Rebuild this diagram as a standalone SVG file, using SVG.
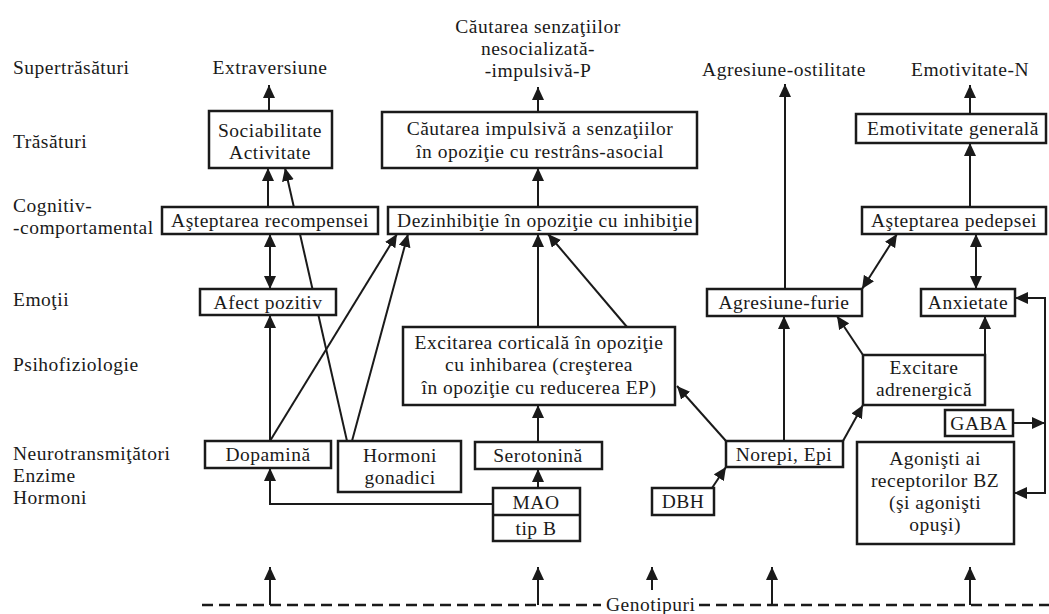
<svg xmlns="http://www.w3.org/2000/svg" width="1049" height="614" viewBox="0 0 1049 614">
<style>
.t{font-family:"Liberation Serif","Times New Roman",serif;font-size:19.5px;letter-spacing:0.5px;fill:#1a1a1a}
.c{text-anchor:middle}
.box{fill:#fff;stroke:#1a1a1a;stroke-width:2.5}
.con{fill:none;stroke:#1a1a1a;stroke-width:2}
.dash{fill:none;stroke:#1a1a1a;stroke-width:2.5;stroke-dasharray:11 6}
</style>
<defs>
<marker id="ah" markerWidth="13" markerHeight="12" refX="13" refY="6" orient="auto" markerUnits="userSpaceOnUse"><path d="M0,0 L13,6 L0,12 z" fill="#1a1a1a"/></marker>
<marker id="as" markerWidth="13" markerHeight="12" refX="13" refY="6" orient="auto-start-reverse" markerUnits="userSpaceOnUse"><path d="M0,0 L13,6 L0,12 z" fill="#1a1a1a"/></marker>
</defs>
<rect width="1049" height="614" fill="#fff"/>

<g id="row-labels" class="t">
<text x="13" y="74">Supertrăsături</text>
<text x="13" y="148">Trăsături</text>
<text x="13" y="212">Cognitiv-</text>
<text x="13" y="234">-comportamental</text>
<text x="13" y="306">Emoţii</text>
<text x="13" y="371">Psihofiziologie</text>
<text x="13" y="460">Neurotransmiţători</text>
<text x="13" y="482">Enzime</text>
<text x="13" y="504">Hormoni</text>
</g>

<g id="connectors" class="con">
<path d="M269,111 L269,85" marker-end="url(#ah)"/>
<path d="M538,112 L538,87" marker-end="url(#ah)"/>
<path d="M785,289 L785,84" marker-end="url(#ah)"/>
<path d="M970,114 L970,85" marker-end="url(#ah)"/>
<path d="M970,207 L970,143" marker-end="url(#ah)"/>
<path d="M268,207 L268,168" marker-end="url(#ah)"/>
<path d="M347,441 L285,168" marker-end="url(#ah)"/>
<path d="M538,207 L538,168" marker-end="url(#ah)"/>
<path d="M270,234 L270,289" marker-start="url(#as)" marker-end="url(#ah)"/>
<path d="M270,441 L397,234" marker-end="url(#ah)"/>
<path d="M352,441 L408,234" marker-end="url(#ah)"/>
<path d="M538,327 L538,234" marker-end="url(#ah)"/>
<path d="M627,327 L548,234" marker-end="url(#ah)"/>
<path d="M270,441 L270,315" marker-end="url(#ah)"/>
<path d="M538,442 L538,405" marker-end="url(#ah)"/>
<path d="M538,488 L538,469" marker-end="url(#ah)"/>
<path d="M493,504 L270,504 L270,468" marker-end="url(#ah)"/>
<path d="M712,488 L726,467" marker-end="url(#ah)"/>
<path d="M726,441 L677,386" marker-end="url(#ah)"/>
<path d="M784,441 L784,316" marker-end="url(#ah)"/>
<path d="M843,441 L863,405" marker-end="url(#ah)"/>
<path d="M863,355 L837,316" marker-end="url(#ah)"/>
<path d="M985,355 L985,316" marker-end="url(#ah)"/>
<path d="M976,234 L976,289" marker-start="url(#as)" marker-end="url(#ah)"/>
<path d="M862,289 L897,234" marker-start="url(#as)" marker-end="url(#ah)"/>
<path d="M1013,423 L1045,423" marker-end="url(#ah)"/>
<path d="M1045,298 L1015,298" marker-end="url(#ah)"/>
<path d="M1045,297 L1045,493 L1014,493" marker-end="url(#ah)"/>
<path d="M270,605 L270,567" marker-end="url(#ah)"/>
<path d="M538,605 L538,567" marker-end="url(#ah)"/>
<path d="M652,590 L652,567" marker-end="url(#ah)"/>
<path d="M772,605 L772,567" marker-end="url(#ah)"/>
<path d="M970,605 L970,567" marker-end="url(#ah)"/>
<path class="dash" d="M202,605 L601,605"/>
<path class="dash" d="M699,605 L1049,605"/>
</g>

<g id="n-extraversiune" class="t c"><text x="270" y="74">Extraversiune</text></g>
<g id="n-cautarea-senzatiilor" class="t c">
<text x="538" y="33">Căutarea senzaţiilor</text>
<text x="538" y="55">nesocializată-</text>
<text x="538" y="77">-impulsivă-P</text>
</g>
<g id="n-agresiune-ostilitate" class="t c"><text x="784" y="76">Agresiune-ostilitate</text></g>
<g id="n-emotivitate-n" class="t c"><text x="970" y="76">Emotivitate-N</text></g>

<g id="n-sociabilitate"><rect class="box" x="209" y="111" width="123" height="57"/>
<text class="t c" x="270" y="137">Sociabilitate</text><text class="t c" x="270" y="159">Activitate</text></g>
<g id="n-cautarea-impulsiva"><rect class="box" x="382" y="112" width="315" height="56"/>
<text class="t c" x="540" y="135">Căutarea impulsivă a senzaţiilor</text><text class="t c" x="540" y="158">în opoziţie cu restrâns-asocial</text></g>
<g id="n-emotivitate-generala"><rect class="box" x="856" y="114" width="190" height="29"/>
<text class="t c" x="953" y="135">Emotivitate generală</text></g>

<g id="n-asteptarea-recompensei"><rect class="box" x="162" y="207" width="216" height="27"/>
<text class="t c" x="270" y="227">Aşteptarea recompensei</text></g>
<g id="n-dezinhibitie"><rect class="box" x="388" y="207" width="309" height="27"/>
<text class="t c" x="545" y="227">Dezinhibiţie în opoziţie cu inhibiţie</text></g>
<g id="n-asteptarea-pedepsei"><rect class="box" x="862" y="207" width="184" height="27"/>
<text class="t c" x="954" y="227">Aşteptarea pedepsei</text></g>

<g id="n-afect-pozitiv"><rect class="box" x="200" y="289" width="136" height="26"/>
<text class="t c" x="268" y="309">Afect pozitiv</text></g>
<g id="n-agresiune-furie"><rect class="box" x="707" y="289" width="155" height="27"/>
<text class="t c" x="784" y="309">Agresiune-furie</text></g>
<g id="n-anxietate"><rect class="box" x="921" y="289" width="94" height="27"/>
<text class="t c" x="968" y="309">Anxietate</text></g>

<g id="n-excitarea-corticala"><rect class="box" x="403" y="327" width="272" height="78"/>
<text class="t c" x="539" y="349">Excitarea corticală în opoziţie</text>
<text class="t c" x="539" y="371">cu inhibarea (creşterea</text>
<text class="t c" x="539" y="394">în opoziţie cu reducerea EP)</text></g>
<g id="n-excitare-adrenergica"><rect class="box" x="863" y="355" width="122" height="50"/>
<text class="t c" x="924" y="374">Excitare</text><text class="t c" x="924" y="396">adrenergică</text></g>

<g id="n-dopamina"><rect class="box" x="205" y="441" width="126" height="27"/>
<text class="t c" x="268" y="461">Dopamină</text></g>
<g id="n-hormoni-gonadici"><rect class="box" x="338" y="441" width="123" height="51"/>
<text class="t c" x="400" y="462">Hormoni</text><text class="t c" x="400" y="484">gonadici</text></g>
<g id="n-serotonina"><rect class="box" x="475" y="442" width="127" height="27"/>
<text class="t c" x="538" y="462">Serotonină</text></g>
<g id="n-mao"><rect class="box" x="493" y="488" width="87" height="53"/>
<line x1="493" y1="515" x2="580" y2="515" stroke="#1a1a1a" stroke-width="2.5"/>
<text class="t c" x="536" y="509">MAO</text><text class="t c" x="536" y="535">tip B</text></g>
<g id="n-dbh"><rect class="box" x="652" y="488" width="62" height="27"/>
<text class="t c" x="683" y="508">DBH</text></g>
<g id="n-norepi"><rect class="box" x="726" y="441" width="117" height="26"/>
<text class="t c" x="784" y="461">Norepi, Epi</text></g>
<g id="n-gaba"><rect class="box" x="945" y="410" width="68" height="26"/>
<text class="t c" x="979" y="430">GABA</text></g>
<g id="n-agonisti"><rect class="box" x="857" y="442" width="157" height="102"/>
<text class="t c" x="935" y="465">Agonişti ai</text>
<text class="t c" x="935" y="487">receptorilor BZ</text>
<text class="t c" x="935" y="509">(şi agonişti</text>
<text class="t c" x="935" y="531">opuşi)</text></g>

<g id="n-genotipuri" class="t"><text x="606" y="611">Genotipuri</text></g>
</svg>
